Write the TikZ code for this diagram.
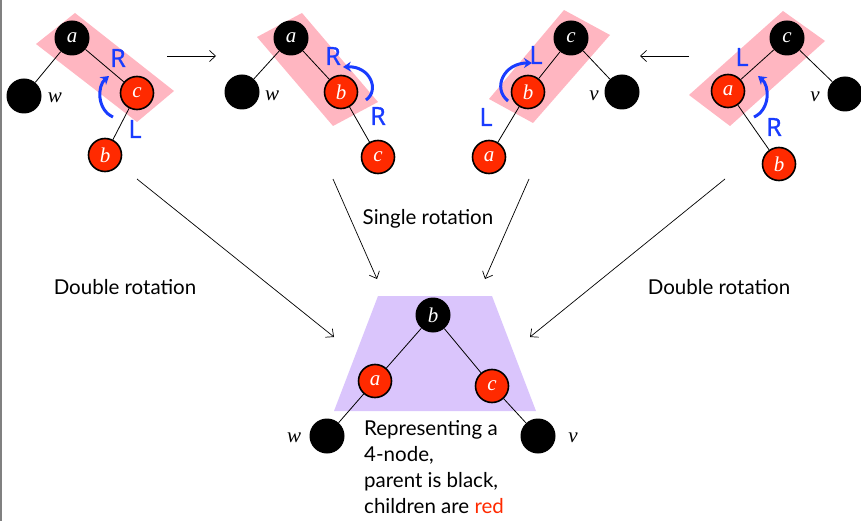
\documentclass[tikz,border=0pt]{standalone}
\usepackage{fontspec}
\setmainfont{Lato}
\newfontfamily\varfont{Liberation Serif}
\newfontfamily\rotfont[FakeBold=1.2]{Open Sans}
\usetikzlibrary{arrows.meta}
\definecolor{nodered}{RGB}{255,42,0}
\definecolor{bandpink}{RGB}{255,182,193}
\definecolor{fourlav}{RGB}{218,197,252}
\definecolor{rotblue}{RGB}{25,60,255}
\tikzset{
  x=1pt, y=-1pt,
  blk/.style={circle, fill=black, minimum size=35pt, inner sep=0pt,
    text=white, font=\varfont\itshape\fontsize{21}{21}\selectfont},
  rd/.style={circle, fill=nodered, draw=black, line width=1.6pt,
    minimum size=33pt, inner sep=0pt,
    text=white, font=\varfont\itshape\fontsize{21}{21}\selectfont},
  edge/.style={draw=black, line width=0.8pt},
  leaf/.style={font=\varfont\itshape\fontsize{21}{21}\selectfont},
  rotlbl/.style={text=rotblue, font=\rotfont\fontsize{25}{25}\selectfont},
  rotarc/.style={draw=rotblue, line width=3pt, -{Stealth[length=8pt,width=10pt]}},
  flow/.style={draw=black, line width=0.7pt, -{Straight Barb[length=6pt,width=11pt]}},
  caption/.style={font=\fontsize{20.5}{26}\selectfont},
}
\begin{document}
\begin{tikzpicture}
\useasboundingbox (0,0) rectangle (861,521);
\draw[gray, line width=1.5pt] (0.75,0) -- (0.75,521);

% highlighted red links
\fill[bandpink] (36,44) -- (75,13) -- (174,91) -- (137,122) -- cycle;
\fill[bandpink] (257,37) -- (302,13) -- (378,102) -- (333,126) -- cycle;
\fill[bandpink] (489,99) -- (564,10) -- (610,35) -- (533,123) -- cycle;
\fill[bandpink] (689,95) -- (783,11) -- (825,41) -- (730,126) -- cycle;
\fill[fourlav] (378,296) -- (492,296) -- (536,411) -- (334,411) -- cycle;

% tree 1
\node[blk] (a1) at (72,38) {a};
\node[blk] (w1) at (24,96) {};
\node[rd] (c1) at (137,93) {c};
\node[rd] (b1) at (105,155) {b};
\node[leaf] (lw1) at (55,98) {w};
% tree 2
\node[blk] (a2) at (291,38) {a};
\node[blk] (w2) at (242,92) {};
\node[rd] (b2) at (341,92) {b};
\node[rd] (c2) at (378,157) {c};
\node[leaf] (lw2) at (272,96) {w};
% tree 3
\node[blk] (c3) at (571,38) {c};
\node[blk] (v3) at (622,92) {};
\node[rd] (b3) at (528,92) {b};
\node[rd] (a3) at (489,157) {a};
\node[leaf] (lv3) at (594,96) {v};
% tree 4
\node[blk] (c4) at (787,38) {c};
\node[blk] (v4) at (845,94) {};
\node[rd] (a4) at (728,91) {a};
\node[rd] (b4) at (779,164) {b};
\node[leaf] (lv4) at (815,97) {v};
% balanced tree
\node[blk] (b5) at (433,315) {b};
\node[rd] (a5) at (375,381) {a};
\node[rd] (c5) at (492,386) {c};
\node[blk] (w5) at (327,436) {};
\node[blk] (v5) at (538,436) {};
\node[leaf] (lw5) at (294,438) {w};
\node[leaf] (lv5) at (573,438) {v};

% links (drawn between node borders)
\draw[edge] (a1) -- (w1);  \draw[edge] (a1) -- (c1);  \draw[edge] (c1) -- (b1);
\draw[edge] (a2) -- (w2);  \draw[edge] (a2) -- (b2);  \draw[edge] (b2) -- (c2);
\draw[edge] (c3) -- (v3);  \draw[edge] (c3) -- (b3);  \draw[edge] (b3) -- (a3);
\draw[edge] (c4) -- (v4);  \draw[edge] (c4) -- (a4);  \draw[edge] (a4) -- (b4);
\draw[edge] (b5) -- (a5);  \draw[edge] (b5) -- (c5);
\draw[edge] (a5) -- (w5);  \draw[edge] (c5) -- (v5);

% rotation labels
\node[rotlbl] (r1) at (118,58) {R};
\node[rotlbl] (l1) at (135,129) {L};
\node[rotlbl] (r2a) at (333,56) {R};
\node[rotlbl] (r2b) at (378,116) {R};
\node[rotlbl] (l3a) at (536,55) {L};
\node[rotlbl] (l3b) at (486,117) {L};
\node[rotlbl] (l4) at (742,57) {L};
\node[rotlbl] (r4) at (774,127) {R};

% rotation arcs
\coordinate (s1) at (113,117); \coordinate (e1) at (109,76);
\draw[rotarc] (s1) .. controls (97,110) and (97,86) .. (e1);
\coordinate (s2) at (366,100); \coordinate (e2) at (343,67);
\draw[rotarc] (s2) .. controls (380,90) and (370,66) .. (e2);
\coordinate (s3) at (508,101); \coordinate (e3) at (532,63);
\draw[rotarc] (s3) .. controls (492,88) and (504,63) .. (e3);
\coordinate (s4) at (754,117); \coordinate (e4) at (758,76);
\draw[rotarc] (s4) .. controls (770,110) and (770,86) .. (e4);

% transitions
\coordinate (t1s) at (167,56); \coordinate (t1e) at (216,56);
\draw[flow] (t1s) -- (t1e);
\coordinate (t2s) at (689,56); \coordinate (t2e) at (640,56);
\draw[flow] (t2s) -- (t2e);
\coordinate (d1s) at (137,179); \coordinate (d1e) at (334,337);
\draw[flow] (d1s) -- (d1e);
\coordinate (s5s) at (333,179); \coordinate (s5e) at (377,279);
\draw[flow] (s5s) -- (s5e);
\coordinate (s6s) at (529,179); \coordinate (s6e) at (485,279);
\draw[flow] (s6s) -- (s6e);
\coordinate (d2s) at (725,179); \coordinate (d2e) at (530,337);
\draw[flow] (d2s) -- (d2e);

% captions
\node[caption] (single) at (428,219) {Single rotation};
\node[caption] (dbl1) at (125,287) {Double rotation};
\node[caption] (dbl2) at (719,287) {Double rotation};
\node[caption, anchor=north west, align=left, inner sep=0pt] (four) at (364,420)
  {Representing a\\4-node,\\parent is black,\\children are \textcolor{nodered}{red}};
\end{tikzpicture}
\end{document}
